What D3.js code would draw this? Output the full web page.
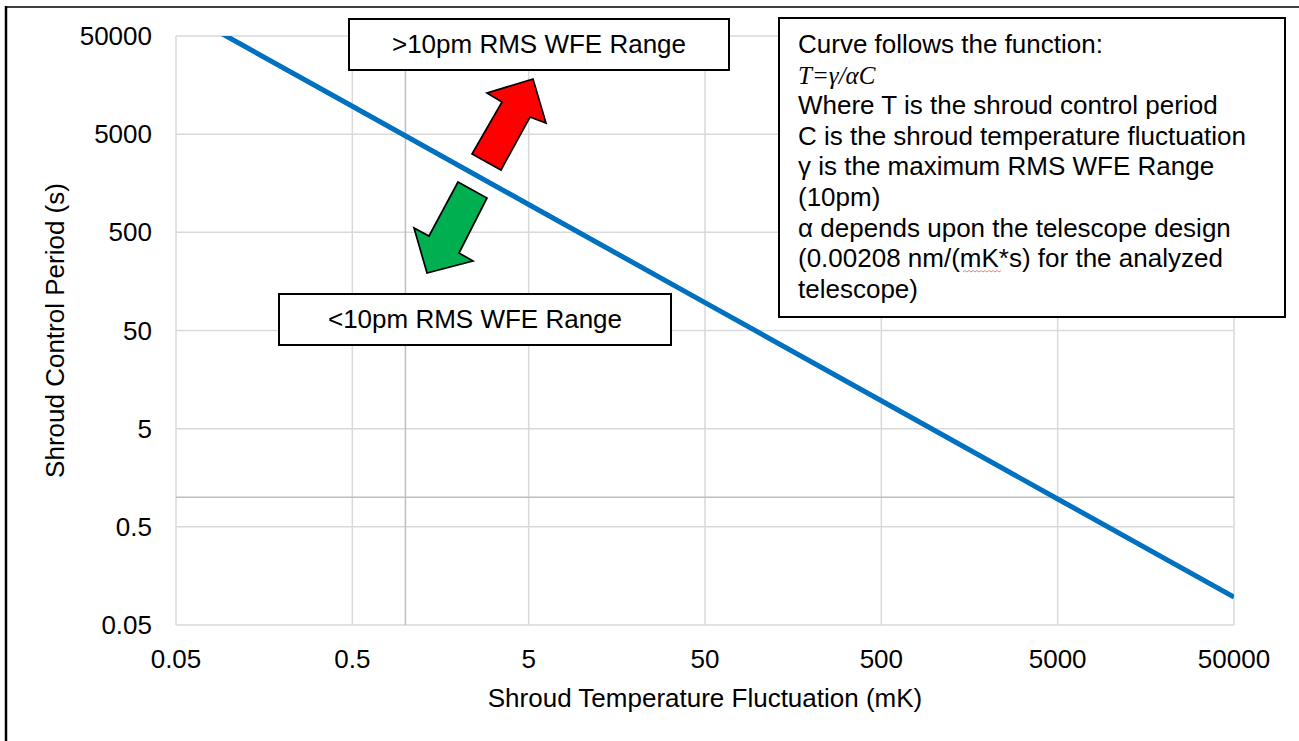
<!DOCTYPE html>
<html>
<head>
<meta charset="utf-8">
<script src="https://cdn.jsdelivr.net/npm/d3@7"></script>
<style>
  html, body { margin: 0; padding: 0; background: #fff; }
  svg { display: block; }
  text { font-family: "Liberation Sans", Arial, sans-serif; fill: #000; }
</style>
</head>
<body>
<svg id="chart" width="1299" height="741"></svg>
<script>
// ---- data ----
const tempFluctuation = [0.05, 0.5, 5, 50, 500, 5000, 50000];          // C (mK)
const controlPeriod   = [96154, 9615.4, 961.54, 96.154, 9.6154, 0.96154, 0.096154]; // T (s)
const xTickValues = [0.05, 0.5, 5, 50, 500, 5000, 50000];
const xTickLabels = ["0.05", "0.5", "5", "50", "500", "5000", "50000"];
const yTickValues = [0.05, 0.5, 5, 50, 500, 5000, 50000];
const yTickLabels = ["0.05", "0.5", "5", "50", "500", "5000", "50000"];
const axisCross = 1;
const xTitle = "Shroud Temperature Fluctuation (mK)";
const yTitle = "Shroud Control Period (s)";
const upperLabel = ">10pm RMS WFE Range";
const lowerLabel = "<10pm RMS WFE Range";
const infoLines = [
  "Curve follows the function:",
  "T=γ/αC",
  "Where T is the shroud control period",
  "C is the shroud temperature fluctuation",
  "γ is the maximum RMS WFE Range",
  "(10pm)",
  "α depends upon the telescope design",
  "(0.00208 nm/(mK*s) for the analyzed",
  "telescope)"
];

// ---- layout ----
const svg = d3.select("#chart");
const plot = { left: 176, right: 1234, top: 36, bottom: 625 };
const FS = 26;

svg.append("rect").attr("width", 1299).attr("height", 741).attr("fill", "#fff");

const x = d3.scaleLog().domain([0.05, 50000]).range([plot.left, plot.right]);
const y = d3.scaleLog().domain([0.05, 50000]).range([plot.bottom, plot.top]);

// outer frame (top and left edges visible)
svg.append("line").attr("x1", 6).attr("x2", 1299).attr("y1", 7).attr("y2", 7)
  .attr("stroke", "#000").attr("stroke-width", 1.5);
svg.append("line").attr("x1", 6).attr("x2", 6).attr("y1", 6).attr("y2", 741)
  .attr("stroke", "#000").attr("stroke-width", 2.5);

// gridlines
const grid = svg.append("g");
grid.selectAll(".vg").data(xTickValues).join("line")
  .attr("x1", d => x(d)).attr("x2", d => x(d))
  .attr("y1", plot.top).attr("y2", plot.bottom)
  .attr("stroke", "#d9d9d9").attr("stroke-width", 1.5);
grid.selectAll(".hg").data(yTickValues).join("line")
  .attr("y1", d => y(d)).attr("y2", d => y(d))
  .attr("x1", plot.left).attr("x2", plot.right)
  .attr("stroke", "#d9d9d9").attr("stroke-width", 1.5);
// axis lines crossing at 1
grid.append("line").attr("x1", x(axisCross)).attr("x2", x(axisCross))
  .attr("y1", plot.top).attr("y2", plot.bottom)
  .attr("stroke", "#bfbfbf").attr("stroke-width", 1.5);
grid.append("line").attr("y1", y(axisCross)).attr("y2", y(axisCross))
  .attr("x1", plot.left).attr("x2", plot.right)
  .attr("stroke", "#bfbfbf").attr("stroke-width", 1.5);

// tick labels
svg.append("g").selectAll("text").data(xTickValues).join("text")
  .attr("x", d => x(d)).attr("y", 668)
  .attr("text-anchor", "middle").attr("font-size", FS)
  .text((d, i) => xTickLabels[i]);
svg.append("g").selectAll("text").data(yTickValues).join("text")
  .attr("x", 152).attr("y", d => y(d) + 9)
  .attr("text-anchor", "end").attr("font-size", FS)
  .text((d, i) => yTickLabels[i]);

// axis titles
svg.append("text").attr("x", (plot.left + plot.right) / 2).attr("y", 707)
  .attr("text-anchor", "middle").attr("font-size", FS).text(xTitle);
svg.append("text")
  .attr("transform", `translate(64,${(plot.top + plot.bottom) / 2}) rotate(-90)`)
  .attr("text-anchor", "middle").attr("font-size", FS).text(yTitle);

// curve
svg.append("clipPath").attr("id", "plotclip").append("rect")
  .attr("x", plot.left).attr("y", plot.top)
  .attr("width", plot.right - plot.left).attr("height", plot.bottom - plot.top);
const pts = tempFluctuation.map((c, i) => [c, controlPeriod[i]]);
svg.append("path").datum(pts)
  .attr("clip-path", "url(#plotclip)")
  .attr("fill", "none").attr("stroke", "#0070C0").attr("stroke-width", 5)
  .attr("d", d3.line().x(d => x(d[0])).y(d => y(d[1])));

// arrows (annotation shapes)
const redArrow = [[533,79],[546,123],[530,117],[501,170],[472,154],[502,102],[487,93]];
const greenArrow = [[458,182],[487,198],[459,253],[473,261],[427,273],[414,228],[429,236]];
svg.append("polygon").attr("points", redArrow.map(p => p.join(",")).join(" "))
  .attr("fill", "#FF0000").attr("stroke", "#000").attr("stroke-width", 1.7)
  .attr("stroke-linejoin", "miter");
svg.append("polygon").attr("points", greenArrow.map(p => p.join(",")).join(" "))
  .attr("fill", "#00B050").attr("stroke", "#000").attr("stroke-width", 1.7)
  .attr("stroke-linejoin", "miter");

// label boxes
function labelBox(bx, by, bw, bh, txt, baseline) {
  svg.append("rect").attr("x", bx).attr("y", by).attr("width", bw).attr("height", bh)
    .attr("fill", "#fff").attr("stroke", "#000").attr("stroke-width", 2);
  svg.append("text").attr("x", bx + bw / 2).attr("y", baseline)
    .attr("text-anchor", "middle").attr("font-size", FS).text(txt);
}
labelBox(349, 19, 380, 51, upperLabel, 53);
labelBox(279, 294, 392, 51, lowerLabel, 328);

// info box
svg.append("rect").attr("x", 779).attr("y", 18).attr("width", 506).attr("height", 299)
  .attr("fill", "#fff").attr("stroke", "#000").attr("stroke-width", 2);
const info = svg.append("g");
infoLines.forEach((ln, i) => {
  const t = info.append("text").attr("x", 798).attr("y", 53 + i * 30.6)
    .attr("font-size", FS).text(ln);
  if (i === 1) {
    t.style("font-family", '"Liberation Serif", "DejaVu Serif", serif')
     .style("font-style", "italic").attr("font-size", 25);
  }
});
// spell-check squiggle under "mK"
svg.append("path")
  .attr("d", "M963,272 l2,-1.5 l2,1.5 l2,-1.5 l2,1.5 l2,-1.5 l2,1.5 l2,-1.5 l2,1.5 l2,-1.5 l2,1.5 l2,-1.5 l2,1.5 l2,-1.5 l2,1.5 l2,-1.5 l2,1.5 l2,-1.5 l2,1.5 l2,-1.5")
  .attr("fill", "none").attr("stroke", "#e06666").attr("stroke-width", 0.8);
</script>
</body>
</html>
